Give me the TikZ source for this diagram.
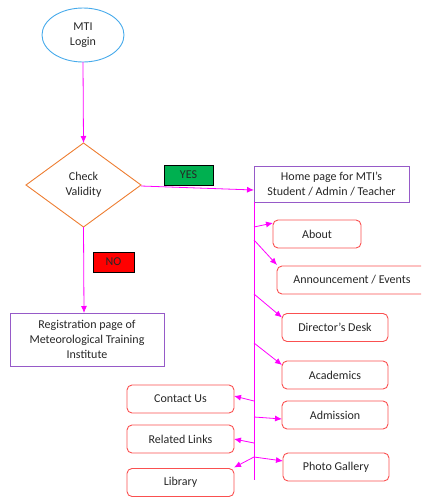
\documentclass[tikz,border=0pt]{standalone}
\usepackage{fontspec}
\setmainfont{Carlito}
\usetikzlibrary{shapes.geometric,arrows.meta}
\definecolor{loginblue}{RGB}{70,170,235}
\definecolor{checkorange}{RGB}{237,125,49}
\definecolor{pagepurple}{RGB}{150,90,200}
\definecolor{menured}{RGB}{250,80,80}
\definecolor{yesgreen}{RGB}{0,176,80}
\definecolor{linkpink}{RGB}{255,0,255}

\begin{document}
\begin{tikzpicture}[x=1pt,y=-1pt,
  every node/.style={font=\fontsize{12}{15}\selectfont, inner sep=0pt, outer sep=0pt, align=center, text=black!85},
  pagebox/.style={draw=pagepurple, line width=0.9pt, minimum width=155pt},
  menubox/.style={draw=menured, line width=0.9pt, rounded corners=5pt, minimum height=28pt, minimum width=106pt},
  tagbox/.style={draw=black, line width=0.8pt, minimum width=49pt, minimum height=20pt},
  link/.style={draw=linkpink, line width=0.8pt, -{Latex[length=7pt,width=6pt]}}]
\clip (0,0) rectangle (421,498);
\useasboundingbox (0,0) rectangle (421,498);

\node[ellipse, draw=loginblue, line width=0.9pt, minimum width=82pt, minimum height=54pt] (login) at (83,35) {MTI\\Login};
\node[diamond, draw=checkorange, line width=0.9pt, minimum width=115pt, minimum height=84pt] (check) at (83.5,185) {Check\\Validity};
\node[tagbox, fill=yesgreen] (yes) at (188.5,175) {YES};
\node[tagbox, fill=red, minimum width=41pt] (no) at (113.5,262) {NO};

\node[pagebox, minimum height=36pt] (home) at (331.5,184) {Home page for MTI’s\\Student / Admin / Teacher};
\node[pagebox, minimum width=154pt, minimum height=53pt] (reg) at (87,339.5) {Registration page of\\Meteorological Training\\Institute};

\node[menubox, minimum width=88pt] (about) at (317,234) {About};
\node[menubox, minimum width=150pt] (news) at (352,280) {Announcement / Events};
\node[menubox] (desk) at (335,327.5) {Director’s Desk};
\node[menubox] (acad) at (335,375) {Academics};
\node[menubox] (admit) at (335,415) {Admission};
\node[menubox] (photo) at (336,467) {Photo Gallery};
\node[menubox, minimum width=107pt] (contact) at (180.5,399) {Contact Us};
\node[menubox, minimum width=107pt] (links) at (180.5,439) {Related Links};
\node[menubox, minimum width=107pt] (library) at (180.5,482.5) {Library};

% spine under the home page
\coordinate (top) at (home.south west);
\coordinate (bottom) at (254,480);
\coordinate (s1) at (254,227);
\coordinate (s2) at (254,240);
\coordinate (s3) at (254,294);
\coordinate (s4) at (254,343);
\coordinate (s5) at (254,401);
\coordinate (s6) at (254,417);
\coordinate (s7) at (254,443);
\coordinate (s8) at (254,457);
\draw[linkpink, line width=0.8pt] (top) -- (bottom);

\draw[link] (login.south) -- (check.north);
\draw[link] ([yshift=-1pt]check.east) -- ([yshift=-6pt]home.west);
\draw[link] (check.south) -- ([xshift=-3pt]reg.north);

\draw[link] (s1) -- ([yshift=11pt]about.west);
\draw[link] (s2) -- ([yshift=15pt]news.west);
\draw[link] (s3) -- ([yshift=10pt]desk.west);
\draw[link] (s4) -- ([yshift=10pt]acad.west);
\draw[link] (s6) -- ([yshift=-4pt]admit.west);
\draw[link] (s8) -- ([yshift=6pt]photo.west);
\draw[link] (s5) -- ([yshift=3pt]contact.east);
\draw[link] (s7) -- (links.east);
\draw[link] (s8) -- ([yshift=1pt]library.north east);
\end{tikzpicture}
\end{document}
